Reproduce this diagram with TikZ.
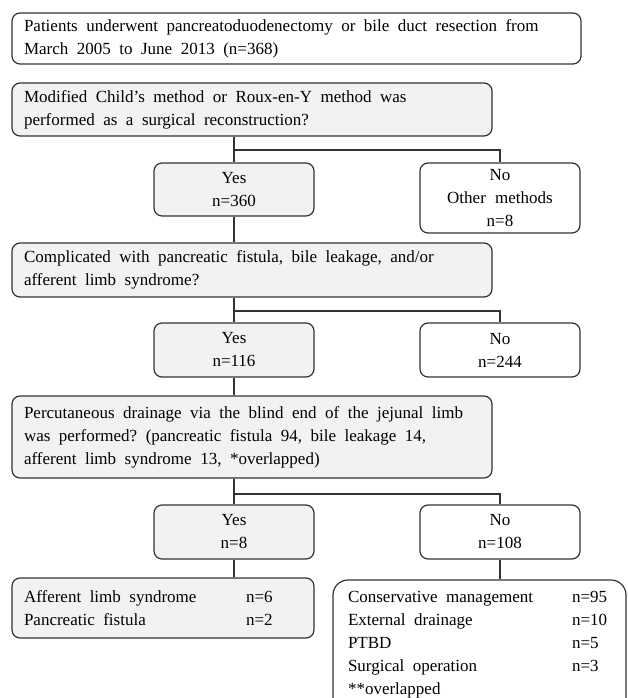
\documentclass[tikz,border=0pt]{standalone}
\usepackage{fontspec}
\setmainfont{Liberation Serif}
\definecolor{boxgray}{HTML}{F2F2F2}
\definecolor{edge}{HTML}{333333}
\begin{document}
\begin{tikzpicture}[x=1pt,y=-1pt,
  txt/.style={font=\fontsize{17}{23}\selectfont, execute at begin node={\spaceskip=0.5em plus 0.1em minus 0.05em\relax}},
  bx/.style={txt, draw=edge, line width=1.2pt, rounded corners=8pt, inner xsep=12pt, inner ysep=0pt, text=black},
  gbx/.style={bx, fill=boxgray},
  wbx/.style={bx, fill=white},
  wide/.style={text width=456pt, align=left, minimum height=#1},
  small/.style={text width=136pt, align=center, minimum height=#1},
  conn/.style={draw=edge, line width=1.2pt}
]
\clip (0,0) rectangle (627,698);
\fill[white] (0,0) rectangle (627,698);

\node[wbx, text width=545pt, align=left, minimum height=51pt] (box1) at (296.5,38.5)
  {Patients underwent pancreatoduodenectomy or bile duct resection from\\March 2005 to June 2013 (n=368)};
\node[gbx, wide=53pt] (box2) at (252,109.5)
  {Modified Child's method or Roux-en-Y method was\\performed as a surgical reconstruction?};
\node[gbx, small=53pt] (yes1) at (234,189.5) {Yes\\n=360};
\node[wbx, small=70pt] (no1) at (500,198) {No\\Other methods\\n=8};
\node[gbx, wide=54pt] (box3) at (252,270)
  {Complicated with pancreatic fistula, bile leakage, and/or\\afferent limb syndrome?};
\node[gbx, small=54pt] (yes2) at (234,350) {Yes\\n=116};
\node[wbx, small=54pt] (no2) at (500,350) {No\\n=244};
\node[gbx, wide=82pt] (box4) at (252,437)
  {Percutaneous drainage via the blind end of the jejunal limb\\was performed? (pancreatic fistula 94, bile leakage 14,\\afferent limb syndrome 13, *overlapped)};
\node[gbx, small=54pt] (yes3) at (234,532) {Yes\\n=8};
\node[wbx, small=54pt] (no3) at (500,532) {No\\n=108};
\node[gbx, text width=278pt, align=left, minimum height=60pt] (box5) at (163,608)
  {\makebox[222pt][l]{Afferent limb syndrome}n=6\\\makebox[222pt][l]{Pancreatic fistula}n=2};
\node[wbx, rounded corners=15pt, inner xsep=15pt, text width=263pt, align=left, minimum height=140pt] (box6) at (479.5,650)
  {\makebox[224pt][l]{Conservative management}n=95\\\makebox[224pt][l]{External drainage}n=10\\\makebox[224pt][l]{PTBD}n=5\\\makebox[224pt][l]{Surgical operation}n=3\\\mbox{**}overlapped\\[-8pt]\mbox{}};

\coordinate (s1) at (234,150);
\coordinate (s2) at (234,311);
\coordinate (s3) at (234,494);
\draw[conn] (box2.south -| s1) -- (s1) -- (yes1.north);
\draw[conn] (s1) -| (no1.north);
\draw[conn] (yes1.south) -- (yes1.south |- box3.north);
\draw[conn] (box3.south -| s2) -- (s2) -- (yes2.north);
\draw[conn] (s2) -| (no2.north);
\draw[conn] (yes2.south) -- (yes2.south |- box4.north);
\draw[conn] (box4.south -| s3) -- (s3) -- (yes3.north);
\draw[conn] (s3) -| (no3.north);
\draw[conn] (yes3.south) -- (yes3.south |- box5.north);
\draw[conn] (no3.south) -- (no3.south |- box6.north);
\end{tikzpicture}
\end{document}
